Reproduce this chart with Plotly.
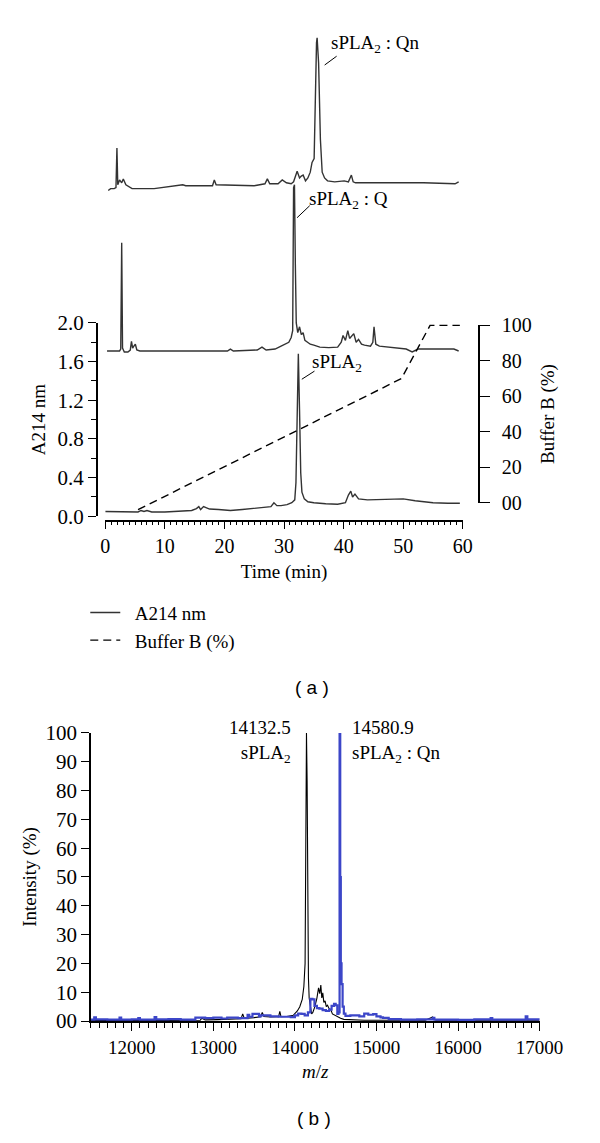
import plotly.graph_objects as go

# The page body adds an 8 px margin, so the figure is sized and positioned to compensate.
OFF = 8
W, H = 600 - OFF, 1143 - OFF
def px(x):
    return (x - OFF) / W
def py(y):
    return 1 - (y - OFF) / H

# ---------------- Panel (a) data: HPLC chromatograms ----------------
# sPLA2 (bottom trace, left axis A214 nm)
t_spla2 = [0.0, 4.5, 5.5, 6.0, 6.5, 7.0, 7.8, 10.0, 13.0, 14.5, 15.3, 15.7, 16.0, 16.5, 16.9, 17.5,
           19.0, 21.0, 23.0, 25.0, 27.0, 27.8, 28.3, 28.8, 29.5, 30.5, 31.3, 31.8, 32.0, 32.2, 32.4,
           32.6, 32.8, 33.0, 33.4, 34.0, 35.0, 37.0, 39.0, 40.3, 40.8, 41.2, 41.5, 41.9, 42.5, 44.0,
           47.0, 50.0, 52.0, 55.0, 57.5, 59.5]
a_spla2 = [0.05, 0.05, 0.045, 0.06, 0.05, 0.06, 0.045, 0.045, 0.05, 0.06, 0.08, 0.10, 0.07, 0.10, 0.09, 0.075,
           0.07, 0.06, 0.07, 0.08, 0.09, 0.10, 0.14, 0.11, 0.11, 0.12, 0.14, 0.17, 0.35, 0.95, 1.68,
           1.10, 0.45, 0.25, 0.18, 0.15, 0.14, 0.13, 0.125, 0.14, 0.22, 0.26, 0.20, 0.23, 0.18, 0.17,
           0.175, 0.18, 0.16, 0.14, 0.135, 0.135]

# sPLA2:Q (middle trace, offset, same absorbance scale)
t_q = [0.3, 2.4, 2.6, 2.76, 2.9, 3.2, 3.8, 4.2, 4.4, 4.6, 4.8, 5.05, 5.3, 5.8, 10.0, 15.0, 20.5, 21.0,
       21.5, 25.5, 26.3, 27.0, 28.5, 29.5, 30.3, 30.8, 31.2, 31.45, 31.6, 31.75, 31.9, 32.05, 32.3, 32.6,
       32.9, 33.2, 33.5, 33.9, 34.4, 35.0, 36.0, 37.5, 39.0, 39.6, 39.9, 40.3, 40.7, 41.0, 41.3, 41.7,
       42.1, 42.5, 43.0, 43.5, 44.5, 44.9, 45.1, 45.4, 46.0, 47.0, 49.0, 50.5, 51.5, 52.5, 55.0, 58.5, 59.3]
a_q = [1.71, 1.71, 1.73, 2.83, 1.74, 1.70, 1.70, 1.72, 1.81, 1.74, 1.76, 1.78, 1.72, 1.71, 1.71, 1.71, 1.71, 1.73,
       1.71, 1.72, 1.75, 1.72, 1.73, 1.76, 1.79, 1.80, 1.85, 1.92, 3.40, 3.43, 2.60, 2.00, 1.90, 1.96,
       1.88, 1.90, 1.82, 1.80, 1.78, 1.77, 1.75, 1.745, 1.75, 1.80, 1.87, 1.82, 1.92, 1.84, 1.86, 1.89,
       1.80, 1.83, 1.78, 1.77, 1.76, 1.80, 1.96, 1.78, 1.76, 1.755, 1.74, 1.73, 1.70, 1.73, 1.73, 1.73, 1.71]

# sPLA2:Qn (top trace, offset)
t_qn = [0.5, 0.9, 1.5, 1.8, 1.96, 2.1, 2.4, 2.76, 3.03, 3.46, 4.5, 8.2, 13.0, 13.5, 18.0, 18.3, 18.6,
        25.0, 26.8, 27.2, 27.6, 29.0, 29.7, 30.4, 31.2, 31.6, 32.2, 32.6, 32.9, 33.2, 33.6, 34.0, 34.4,
        34.7, 35.05, 35.3, 35.45, 35.55, 35.65, 35.8, 36.1, 36.4, 36.8, 37.3, 38.5, 40.1, 40.8, 41.3,
        41.6, 42.0, 45.5, 53.4, 58.7, 59.3]
a_qn = [3.37, 3.39, 3.39, 3.40, 3.81, 3.43, 3.48, 3.45, 3.49, 3.43, 3.39, 3.39, 3.43, 3.42, 3.42, 3.48, 3.43,
        3.42, 3.44, 3.49, 3.44, 3.44, 3.48, 3.45, 3.44, 3.46, 3.57, 3.50, 3.52, 3.53, 3.47, 3.50, 3.56,
        3.66, 3.70, 4.64, 4.90, 4.95, 4.88, 4.69, 3.90, 3.56, 3.50, 3.47, 3.46, 3.47, 3.46, 3.53,
        3.46, 3.45, 3.45, 3.45, 3.44, 3.46]

# Buffer B gradient (%)
t_buf = [5.5, 49.7, 54.5, 59.5]
buf_b = [-4, 70, 100, 100]

time_ticks = [0, 10, 20, 30, 40, 50, 60]
a_ticks = [0.0, 0.4, 0.8, 1.2, 1.6, 2.0]
b_ticks = [0, 20, 40, 60, 80, 100]
b_ticktext = ["00", "20", "40", "60", "80", "100"]

# ---------------- Panel (b) data: mass spectra ----------------
mz_spla2 = [11500, 11700, 11900, 12100, 12300, 12500, 12700, 12840, 12860, 12900, 13050, 13200, 13340, 13360,
            13380, 13500, 13580, 13600, 13620, 13700, 13800, 13815, 13830, 13900, 13980, 14030, 14060, 14090,
            14110, 14125, 14135, 14142, 14150, 14158, 14166, 14175, 14190, 14205, 14220, 14245, 14270, 14290,
            14305, 14318, 14330, 14342, 14355, 14370, 14385, 14400, 14420, 14440, 14460, 14490, 14520, 14560,
            14600, 14700, 14850, 15000, 15200, 15400, 15600, 15690, 15710, 15730, 15900, 16200, 16500, 16800,
            17000]
int_spla2 = [0.2, 0.3, 0.2, 0.3, 0.2, 0.3, 0.3, 0.3, 1.0, 0.4, 0.5, 0.6, 0.8, 2.5,
             0.9, 1.2, 1.5, 3.0, 1.6, 1.4, 1.5, 3.4, 1.5, 1.6, 2.0, 3.5, 5.0, 7.5,
             12, 20, 60, 100, 83, 40, 15, 8, 4.5, 2.5, 3.0, 5.0, 8.0, 11.5,
             9.5, 12.5, 8.0, 9.8, 6.5, 7.0, 5.0, 5.5, 4.3, 4.0, 2.5, 2.0, 1.5, 1.0,
             0.6, 0.4, 0.3, 0.3, 0.2, 0.3, 0.3, 1.4, 0.5, 0.3, 0.3, 0.3, 0.2, 0.3,
             0.3]

mz_qn = [11500, 11540, 11560, 11700, 11850, 11870, 12000, 12080, 12100, 12280, 12300, 12450, 12600, 12780,
         12900, 13000, 13100, 13170, 13300, 13420, 13440, 13480, 13560, 13580, 13700, 13800, 13950, 14000,
         14040, 14080, 14120, 14160, 14190, 14215, 14240, 14270, 14300, 14340, 14380, 14420, 14450, 14480,
         14500, 14520, 14535, 14548, 14556, 14563, 14572, 14585, 14600, 14620, 14680, 14730, 14790, 14850,
         14900, 14960, 15000, 15050, 15080, 15150, 15300, 15500, 15690, 15710, 15800, 16000, 16200, 16400,
         16420, 16600, 16830, 16850, 17000]
int_qn = [0.5, 1.3, 0.6, 0.5, 1.2, 0.5, 0.6, 1.0, 0.5, 1.4, 0.6, 0.7, 0.5, 1.2,
          1.0, 1.2, 0.9, 1.2, 1.0, 2.2, 1.5, 2.5, 1.6, 2.0, 1.6, 1.5, 1.4, 2.0,
          2.6, 2.5, 2.0, 3.0, 7.7, 7.5, 5.3, 4.5, 4.3, 3.8, 3.5, 4.0, 5.3, 6.0,
          5.5, 2.5, 3.0, 100, 50, 20, 12.8, 5.0, 2.6, 1.8, 2.0, 2.0, 1.6, 2.6,
          2.2, 2.4, 1.6, 1.3, 1.1, 0.7, 0.5, 0.6, 1.1, 0.5, 0.5, 0.4, 0.6, 1.0,
          0.5, 0.5, 1.6, 0.6, 0.5]

mz_ticks = [12000, 13000, 14000, 15000, 16000, 17000]
mz_ticktext = ["12000", "13000", "14000", "15000", "16000", "17000"]
int_ticks = [0, 10, 20, 30, 40, 50, 60, 70, 80, 90, 100]
int_ticktext = ["00", "10", "20", "30", "40", "50", "60", "70", "80", "90", "100"]

SERIF = "Liberation Serif, Times New Roman, serif"
SANS = "Liberation Sans, Arial, sans-serif"
FS = 19
TRACE_COL = "#333333"
BLUE = "#3c46c8"

def tickfont(size):
    return dict(family=SERIF, size=size, color="black")

fig = go.Figure()

# Panel (a) traces
fig.add_trace(go.Scatter(x=t_spla2, y=a_spla2, mode="lines", name="\u00a0\u00a0A214 nm",
                         line=dict(color=TRACE_COL, width=1.4), xaxis="x", yaxis="y",
                         showlegend=True, hoverinfo="skip"))
fig.add_trace(go.Scatter(x=t_buf, y=buf_b, mode="lines", name="\u00a0\u00a0Buffer B (%)",
                         line=dict(color="black", width=1.4, dash="8px,5px"), xaxis="x", yaxis="y4",
                         showlegend=True, hoverinfo="skip"))
fig.add_trace(go.Scatter(x=t_q, y=a_q, mode="lines", line=dict(color=TRACE_COL, width=1.4),
                         xaxis="x", yaxis="y3", showlegend=False, hoverinfo="skip"))
fig.add_trace(go.Scatter(x=t_qn, y=a_qn, mode="lines", line=dict(color=TRACE_COL, width=1.4),
                         xaxis="x", yaxis="y3", showlegend=False, hoverinfo="skip"))
# anchor trace for the visible right axis
fig.add_trace(go.Scatter(x=[None], y=[None], mode="lines", xaxis="x", yaxis="y2",
                         showlegend=False, hoverinfo="skip"))

# Panel (b) traces
fig.add_trace(go.Scatter(x=mz_spla2, y=int_spla2, mode="lines", line=dict(color="black", width=1.1),
                         xaxis="x2", yaxis="y5", showlegend=False, hoverinfo="skip"))
fig.add_trace(go.Scatter(x=mz_qn, y=int_qn, mode="lines", line=dict(color=BLUE, width=2.2, shape="hv"),
                         xaxis="x2", yaxis="y5", showlegend=False, hoverinfo="skip"))

axis_common = dict(showline=True, linecolor="black", linewidth=1.5, showgrid=False, zeroline=False,
                   ticks="outside", tickcolor="black", tickwidth=1.3)

# geometry (pixels in the page)
A_BOTTOM, A_TOP = 515.0, 317.5          # A214 axis 0.0 .. 2.0
PX_PER_A = (A_BOTTOM - A_TOP) / 2.0
TALL_TOP = 12.0
R_BOTTOM, R_TOP = 501.0, 320.0          # right axis 0 .. 100
y4_lo = -(A_BOTTOM - R_BOTTOM) / (R_BOTTOM - R_TOP) * 100
y4_hi = y4_lo + (A_BOTTOM - TALL_TOP) / (R_BOTTOM - R_TOP) * 100

fig.update_layout(
    width=W, height=H, margin=dict(l=0, r=0, t=0, b=0),
    paper_bgcolor="white", plot_bgcolor="rgba(0,0,0,0)",
    font=dict(family=SERIF, size=FS, color="black"),
    xaxis=dict(axis_common, domain=[px(105), px(481)], range=[0, 60], anchor="free", position=py(520),
               tickvals=time_ticks, ticklen=7, tickfont=tickfont(20),
               minor=dict(dtick=1, tick0=0, ticklen=3.5, ticks="outside", tickcolor="black", tickwidth=1),
               title=dict(text="Time (min)", font=dict(family=SERIF, size=FS), standoff=8)),
    yaxis=dict(axis_common, domain=[py(A_BOTTOM), py(A_TOP)], range=[0, 2], anchor="free", position=px(96),
               tickvals=a_ticks, tickformat=".1f", ticklen=8, tickfont=tickfont(21),
               minor=dict(dtick=0.2, tick0=0, ticklen=5, ticks="outside", tickcolor="black", tickwidth=1),
               title=dict(text="A214 nm", font=dict(family=SERIF, size=FS), standoff=6)),
    yaxis2=dict(axis_common, domain=[py(R_BOTTOM), py(R_TOP)], range=[0, 100], anchor="free",
                position=px(498), side="right", tickvals=b_ticks, ticktext=b_ticktext, ticklen=10,
                ticklabelstandoff=8, tickfont=tickfont(20),
                title=dict(text="Buffer B (%)", font=dict(family=SERIF, size=FS), standoff=9)),
    yaxis3=dict(domain=[py(A_BOTTOM), py(TALL_TOP)], range=[0, (A_BOTTOM - TALL_TOP) / PX_PER_A],
                anchor="x", visible=False),
    yaxis4=dict(overlaying="y3", range=[y4_lo, y4_hi], visible=False),
    xaxis2=dict(axis_common, domain=[px(90), px(561.7)], range=[11500, 17000], anchor="y5",
                tickvals=mz_ticks, ticktext=mz_ticktext, ticklen=8, tickfont=tickfont(19),
                minor=dict(dtick=100, tick0=0, ticklen=5, ticks="outside", tickcolor="black", tickwidth=1),
                title=dict(text="<i>m</i>/<i>z</i>", font=dict(family=SERIF, size=FS), standoff=8)),
    yaxis5=dict(axis_common, domain=[py(1030.7), py(736.3)], range=[0, 100], anchor="x2",
                tickvals=int_ticks, ticktext=int_ticktext, ticklen=8, tickfont=tickfont(21),
                title=dict(text="Intensity (%)", font=dict(family=SERIF, size=FS), standoff=4)),
    legend=dict(x=px(84), y=py(594), xanchor="left", yanchor="top", bgcolor="rgba(0,0,0,0)",
                font=dict(family=SERIF, size=FS, color="black"), itemwidth=30,
                traceorder="normal"),
)

ann_font = dict(family=SERIF, size=FS, color="black")
annotations = [
    dict(text="sPLA<sub>2</sub> : Qn", x=px(340), y=py(33), xanchor="left", yanchor="middle"),
    dict(text="sPLA<sub>2</sub> : Q", x=px(316.7), y=py(191.7), xanchor="left", yanchor="middle"),
    dict(text="sPLA<sub>2</sub>", x=px(320), y=py(358), xanchor="left", yanchor="middle"),
    dict(text="14132.5<br>sPLA<sub>2</sub>", x=px(302), y=py(745), xanchor="right", yanchor="middle", align="right"),
    dict(text="14580.9<br>sPLA<sub>2</sub> : Qn", x=px(362), y=py(745), xanchor="left", yanchor="middle", align="left"),
]
for a in annotations:
    a.update(xref="paper", yref="paper", showarrow=False, font=ann_font)
annotations.append(dict(text="( a )", x=px(322), y=py(690), xref="paper", yref="paper", showarrow=False,
                        font=dict(family=SANS, size=FS, color="black"), xanchor="center", yanchor="middle"))
annotations.append(dict(text="( b )", x=px(324), y=py(1130), xref="paper", yref="paper", showarrow=False,
                        font=dict(family=SANS, size=FS, color="black"), xanchor="center", yanchor="middle"))
fig.update_layout(annotations=annotations)

leaders = [((335.7, 54), (348.3, 45)), ((306.7, 210), (320, 197.7)), ((311.7, 375), (325, 366.7))]
shapes = []
for (x0, y0), (x1, y1) in leaders:
    shapes.append(dict(type="line", xref="paper", yref="paper", x0=px(x0), y0=py(y0), x1=px(x1), y1=py(y1),
                       line=dict(color="black", width=1)))
fig.update_layout(shapes=shapes)

fig.write_html("out.html")
